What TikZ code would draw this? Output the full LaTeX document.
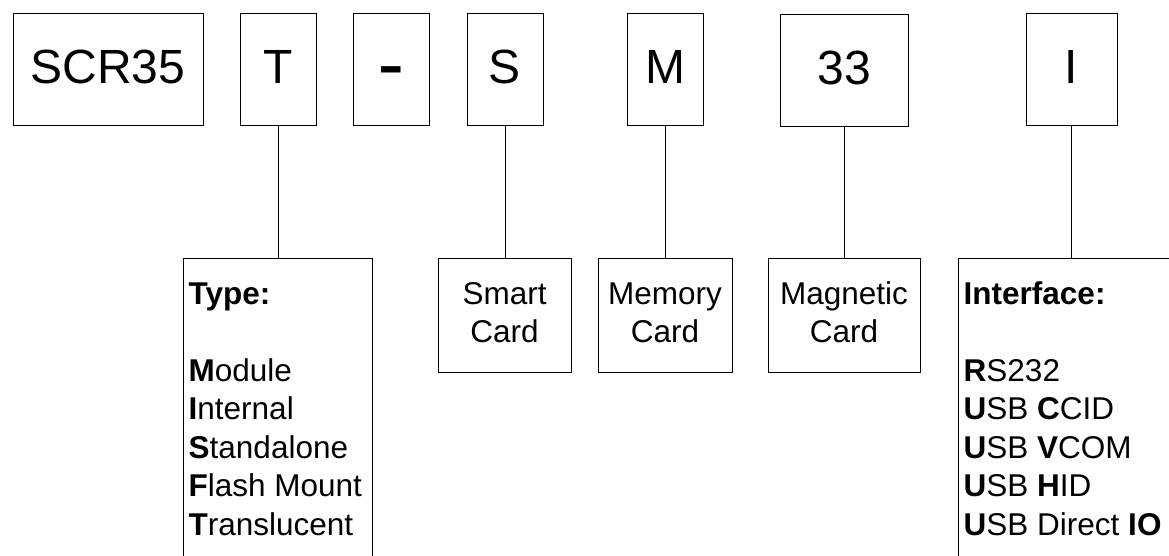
\documentclass[tikz,border=0pt]{standalone}
\usepackage{fontspec}
\usepackage{graphicx}
\setmainfont{Liberation Sans}
\tikzset{
  topbox/.style={draw=black, line width=1pt, inner sep=0pt, rectangle,
    minimum height=112pt, text height=28pt, text depth=0pt,
    font=\fontsize{48}{58}\selectfont},
  botbox/.style={draw=black, line width=1pt, inner sep=0pt, rectangle},
  bottext/.style={inner sep=0pt, font=\fontsize{31.5}{38.5}\selectfont},
  link/.style={draw=black, line width=1pt},
}
\begin{document}
\begin{tikzpicture}[x=1pt,y=-1pt]
\useasboundingbox (0,0) rectangle (1169,555);
\fill[white] (0,0) rectangle (1169,555);
\clip (0,0) rectangle (1169,555);
% top row
\node[topbox, minimum width=190pt] (scr) at (108,69) {SCR35};
\node[topbox, minimum width=76pt] (T) at (278,69) {T};
\node[topbox, minimum width=76pt] (dash) at (391,69) {\scalebox{1.6}[1.1]{\bfseries -}};
\node[topbox, minimum width=76pt] (S) at (505,69) {S};
\node[topbox, minimum width=76pt] (M) at (665,69) {M};
\node[topbox, minimum width=128pt] (n33) at (844,70) {33};
\node[topbox, minimum width=91pt] (I) at (1071.5,69) {I};
% bottom row
\node[botbox, minimum width=189pt, minimum height=342pt] (type) at (277.5,429) {};
\node[botbox, minimum width=133pt, minimum height=114pt] (smart) at (504.5,315) {};
\node[botbox, minimum width=134pt, minimum height=114pt] (memory) at (665,315) {};
\node[botbox, minimum width=152pt, minimum height=114pt] (magnetic) at (844,315) {};
\node[botbox, minimum width=228pt, minimum height=342pt] (iface) at (1072,429) {};
% texts
\node[bottext, anchor=base west] (typet) at (188.5,304)
  {\begin{tabular}[t]{@{}l@{}}\textbf{Type:}\\ \\ \textbf{M}odule\\ \textbf{I}nternal\\ \textbf{S}tandalone\\ \textbf{F}lash Mount\\ \textbf{T}ranslucent\end{tabular}};
\node[bottext, anchor=base] (smartt) at (504.5,304)
  {\begin{tabular}[t]{@{}c@{}}Smart\\ Card\end{tabular}};
\node[bottext, anchor=base] (memoryt) at (665,304)
  {\begin{tabular}[t]{@{}c@{}}Memory\\ Card\end{tabular}};
\node[bottext, anchor=base] (magt) at (844,304)
  {\begin{tabular}[t]{@{}c@{}}Magnetic\\ Card\end{tabular}};
\node[bottext, anchor=base west] (ifacet) at (963.5,304)
  {\begin{tabular}[t]{@{}l@{}}\textbf{Interface:}\\ \\ \textbf{R}S232\\ \textbf{U}SB \textbf{C}CID\\ \textbf{U}SB \textbf{V}COM\\ \textbf{U}SB \textbf{H}ID\\ \textbf{U}SB Direct \textbf{IO}\end{tabular}};
% connectors
\draw[link] (T.south) -- (T.south |- type.north);
\draw[link] (S.south) -- (S.south |- smart.north);
\draw[link] (M.south) -- (M.south |- memory.north);
\draw[link] (n33.south) -- (n33.south |- magnetic.north);
\draw[link] (I.south) -- (I.south |- iface.north);
\end{tikzpicture}
\end{document}
